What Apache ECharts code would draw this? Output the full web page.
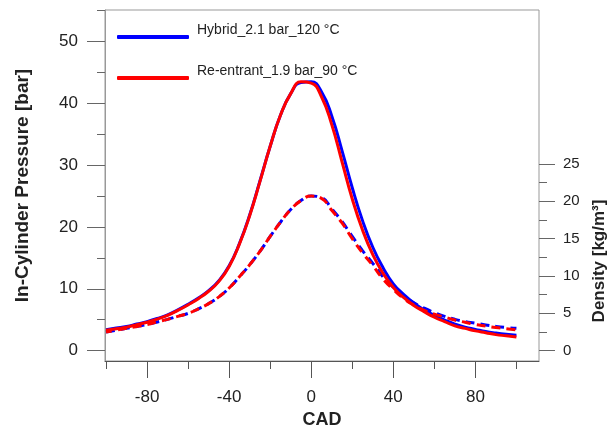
<!DOCTYPE html>
<html><head><meta charset="utf-8">
<script src="https://cdn.jsdelivr.net/npm/echarts@6/dist/echarts.min.js"></script>
<style>html,body{margin:0;padding:0;background:#fff}#c{width:609px;height:431px}</style>
</head><body><div id="c"></div>
<script>
const cad = [-100,-95,-90,-85,-80,-75,-70,-65,-60,-55,-50,-45,-40,-35,-30,-25,-20,-15,-10,-5,0,5,10,15,20,25,30,35,40,45,50,55,60,65,70,75,80,85,90,95,100];
const hybridPressure    = [3.4,3.65,3.9,4.3,4.7,5.2,5.8,6.6,7.5,8.5,9.7,11.3,13.7,17.3,21.9,27.4,33,38,41.5,43.3,43.4,41.8,37.9,32.3,26.3,21,16.7,13.4,10.8,9.1,7.7,6.6,5.7,4.95,4.3,3.8,3.45,3.1,2.85,2.65,2.5];
const reentrantPressure = [3.3,3.55,3.8,4.2,4.6,5.1,5.7,6.5,7.4,8.4,9.6,11.2,13.6,17.2,21.8,27.3,33,38,41.5,43.4,43.2,41,36.5,30.5,24.5,19.5,15.5,12.5,10.2,8.6,7.3,6.3,5.4,4.7,4.0,3.6,3.2,2.9,2.6,2.4,2.2];
const hybridDensity     = [2.5,2.75,3.0,3.25,3.5,3.85,4.2,4.6,5.0,5.6,6.3,7.2,8.4,9.9,11.5,13.3,15.3,17.2,18.9,20.1,20.7,20.5,19.0,17.3,15.3,13.4,11.7,9.9,8.5,7.3,6.4,5.7,5.1,4.6,4.2,3.9,3.7,3.45,3.25,3.1,3.0];
const reentrantDensity  = [2.5,2.75,3.0,3.25,3.5,3.85,4.2,4.6,5.0,5.6,6.3,7.2,8.4,9.9,11.5,13.3,15.3,17.2,18.9,20.1,20.7,20.4,18.8,17.1,15.0,13.1,11.4,9.6,8.2,7.0,6.1,5.4,4.9,4.5,4.1,3.8,3.5,3.3,3.1,2.95,2.8];
const seriesNames = ['Hybrid_2.1 bar_120 °C', 'Re-entrant_1.9 bar_90 °C'];
const xMajorTicks = [-80,-40,0,40,80];
const xMinorTicks = [-100,-60,-20,20,60,100];
const pMajorTicks = [0,10,20,30,40,50];
const pMinorTicks = [5,15,25,35,45,55];
const dMajorTicks = [0,5,10,15,20,25];
const dMinorTicks = [2.5,7.5,12.5,17.5,22.5];

const FONT = '"Liberation Sans", Arial, sans-serif';
const pair = arr => cad.map((x, i) => [x, arr[i]]);
const X_MIN = -100.5, X_MAX = 111;
const P_MIN = -1.66, P_MAX = 55;
const D_MIN = -1.38, D_MAX = 25.4;

const chart = echarts.init(document.getElementById('c'), null, {renderer: 'canvas'});
chart.setOption({
  animation: false,
  backgroundColor: '#fff',
  grid: [
    {left: 105, right: 70, top: 10, bottom: 70, containLabel: false, outerBoundsMode: 'none',
     show: true, borderColor: '#999', borderWidth: 1, backgroundColor: 'transparent'},
    {left: 105, right: 70, top: 161, bottom: 70, containLabel: false, outerBoundsMode: 'none'}
  ],
  legend: {
    orient: 'vertical', left: 117, top: 23, padding: 0, itemGap: 13,
    itemWidth: 72, itemHeight: 4, icon: 'roundRect',
    data: seriesNames,
    formatter: name => name + '\n ',
    textStyle: {fontFamily: FONT, fontSize: 14, color: '#222', lineHeight: 14, padding: [0, 0, 0, 3]}
  },
  xAxis: [
    {type: 'value', gridIndex: 0, min: X_MIN, max: X_MAX, position: 'bottom',
     name: 'CAD', nameLocation: 'middle', nameGap: 50,
     nameTextStyle: {fontFamily: FONT, fontSize: 18, fontWeight: 'bold', color: '#222'},
     axisLine: {show: true, onZero: false, lineStyle: {color: '#555', width: 1}},
     axisTick: {show: true, inside: false, length: 17, customValues: xMajorTicks, lineStyle: {color: '#555'}},
     axisLabel: {show: true, margin: 28, customValues: xMajorTicks, fontFamily: FONT, fontSize: 17, color: '#222'},
     splitLine: {show: false}},
    {type: 'value', gridIndex: 0, min: X_MIN, max: X_MAX, position: 'bottom', offset: 0,
     axisLine: {show: false, onZero: false},
     axisTick: {show: true, inside: false, length: 8, customValues: xMinorTicks, lineStyle: {color: '#555'}},
     axisLabel: {show: false}, splitLine: {show: false}},
    {type: 'value', gridIndex: 1, min: X_MIN, max: X_MAX, show: false, axisLine: {onZero: false}, splitLine: {show: false}}
  ],
  yAxis: [
    {type: 'value', gridIndex: 0, min: P_MIN, max: P_MAX, position: 'left',
     name: 'In-Cylinder Pressure [bar]', nameLocation: 'middle', nameGap: 73, nameRotate: 90,
     nameTextStyle: {fontFamily: FONT, fontSize: 19, fontWeight: 'bold', color: '#222'},
     axisLine: {show: true, onZero: false, lineStyle: {color: '#999', width: 1}},
     axisTick: {show: true, inside: false, length: 18, customValues: pMajorTicks, lineStyle: {color: '#666'}},
     axisLabel: {show: true, margin: 27, customValues: pMajorTicks, fontFamily: FONT, fontSize: 17, color: '#222'},
     splitLine: {show: false}},
    {type: 'value', gridIndex: 0, min: P_MIN, max: P_MAX, position: 'left', offset: 0,
     axisLine: {show: false, onZero: false},
     axisTick: {show: true, inside: false, length: 8, customValues: pMinorTicks, lineStyle: {color: '#666'}},
     axisLabel: {show: false}, splitLine: {show: false}},
    {type: 'value', gridIndex: 1, min: D_MIN, max: D_MAX, position: 'right',
     name: 'Density [kg/m³]', nameLocation: 'middle', nameGap: 51, nameRotate: 90,
     nameTextStyle: {fontFamily: FONT, fontSize: 17, fontWeight: 'bold', color: '#222'},
     axisLine: {show: false, onZero: false},
     axisTick: {show: true, inside: false, length: 16, customValues: dMajorTicks, lineStyle: {color: '#666'}},
     axisLabel: {show: true, margin: 24, customValues: dMajorTicks, fontFamily: FONT, fontSize: 15, color: '#222'},
     splitLine: {show: false}},
    {type: 'value', gridIndex: 1, min: D_MIN, max: D_MAX, position: 'right', offset: 0,
     axisLine: {show: false, onZero: false},
     axisTick: {show: true, inside: false, length: 8, customValues: dMinorTicks, lineStyle: {color: '#666'}},
     axisLabel: {show: false}, splitLine: {show: false}}
  ],
  series: [
    {name: seriesNames[0], type: 'line', xAxisIndex: 0, yAxisIndex: 0, data: pair(hybridPressure),
     smooth: true, symbol: 'none', color: '#0000ff', lineStyle: {color: '#0000ff', width: 3}},
    {name: 'Hybrid density', type: 'line', xAxisIndex: 2, yAxisIndex: 2, data: pair(hybridDensity),
     smooth: true, symbol: 'none', color: '#0000ff', lineStyle: {color: '#0000ff', width: 3, type: [9, 6]}},
    {name: seriesNames[1], type: 'line', xAxisIndex: 0, yAxisIndex: 0, data: pair(reentrantPressure),
     smooth: true, symbol: 'none', color: '#ff0000', lineStyle: {color: '#ff0000', width: 3}},
    {name: 'Re-entrant density', type: 'line', xAxisIndex: 2, yAxisIndex: 2, data: pair(reentrantDensity),
     smooth: true, symbol: 'none', color: '#ff0000', lineStyle: {color: '#ff0000', width: 3, type: [9, 6], dashOffset: 3}}
  ]
});
</script>
</body></html>
